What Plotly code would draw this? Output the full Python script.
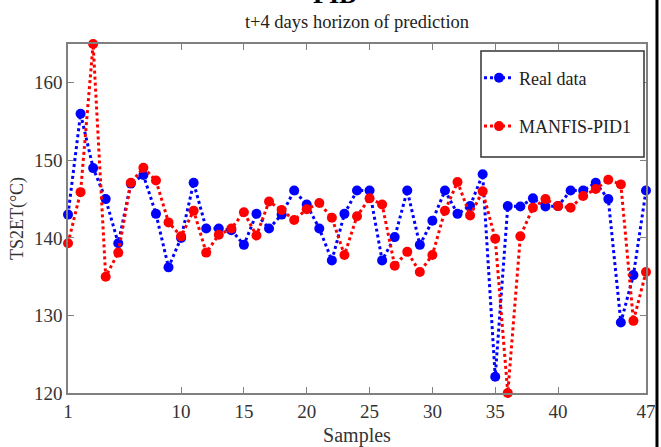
import plotly.graph_objects as go

samples = list(range(1, 48))
real_data = [143, 156, 149, 145, 139.3, 147, 148.1, 143.1, 136.2, 140,
             147.1, 141.2, 141.2, 141, 139.1, 143.1, 141.2, 143, 146.1, 144.3,
             141.2, 137.1, 143.1, 146.1, 146.1, 137.1, 140.1, 146.1, 139.1, 142.2,
             146.1, 143.1, 144.1, 148.2, 122.1, 144.1, 144.05, 145.1, 144.05, 144.1,
             146.1, 146.1, 147.1, 145.0, 129.1, 135.2, 146.1]
manfis_pid1 = [139.3, 145.9, 165, 135, 138.1, 147.1, 149.05, 147.4, 142.0, 140.2,
               143.5, 138.1, 140.4, 141.2, 143.3, 140.3, 144.7, 143.6, 142.3, 143.7,
               144.5, 142.6, 137.8, 142.8, 145.1, 144.3, 136.4, 138.2, 135.6, 137.8,
               143.5, 147.2, 142.9, 146.0, 139.9, 120, 140.2, 143.9, 145.0, 144.1,
               143.9, 145.4, 146.3, 147.5, 146.9, 129.3, 135.6]
x_ticks = [1, 10, 15, 20, 25, 30, 35, 40, 47]
y_ticks = [120, 130, 140, 150, 160]

FONT = "Liberation Serif"

fig = go.Figure()
fig.add_trace(go.Scatter(
    x=samples, y=real_data, name="Real data", mode="lines+markers",
    line=dict(color="#0000ff", width=3, dash="dot"),
    marker=dict(color="#0000ff", size=10),
    cliponaxis=False, legendgroup="a"))
fig.add_trace(go.Scatter(
    x=samples, y=manfis_pid1, name="MANFIS-PID1", mode="lines+markers",
    line=dict(color="#ff0000", width=3, dash="dot"),
    marker=dict(color="#ff0000", size=10),
    cliponaxis=False, legendgroup="b"))

axis_common = dict(showline=True, linecolor="#808080", linewidth=1.5, mirror="ticks",
                   ticks="inside", ticklen=6, tickcolor="#808080", showgrid=False,
                   zeroline=False, automargin=False,
                   tickfont=dict(family=FONT, size=19, color="#333333"))

fig.update_layout(
    width=661, height=447,
    margin=dict(l=68, r=15, t=44, b=54, autoexpand=False),
    paper_bgcolor="white", plot_bgcolor="white",
    font=dict(family=FONT, color="#222222"),
    title=dict(text="t+4 days horizon of prediction", xref="paper", x=0.5, xanchor="center",
               y=0.952, yanchor="middle", font=dict(family=FONT, size=18.5, color="#222222")),
    xaxis=dict(range=[1, 47], tickmode="array", tickvals=x_ticks,
               title=dict(text="Samples", font=dict(family=FONT, size=20, color="#333333"), standoff=8),
               **axis_common),
    yaxis=dict(range=[120, 165], tickmode="array", tickvals=y_ticks,
               title=dict(text="TS2ET(°C)", font=dict(family=FONT, size=18, color="#333333"), standoff=6),
               **axis_common),
    showlegend=True,
    legend=dict(x=(479 - 68) / 578, y=0.9556, xanchor="left", yanchor="top",
                bgcolor="rgba(0,0,0,0)", borderwidth=0,
                font=dict(family=FONT, size=18, color="#222222"),
                tracegroupgap=22, itemwidth=30),
)
# legend frame
fig.add_shape(type="rect", xref="paper", yref="paper",
              x0=(481 - 68) / 578, x1=(644 - 68) / 578,
              y0=(393 - 157) / 349, y1=(393 - 51) / 349,
              line=dict(color="#333333", width=1.5), fillcolor="white", layer="above")
fig.add_annotation(text="<b>PID</b>", xref="paper", yref="paper", x=(335 - 68) / 578, y=1.0,
                   xanchor="center", yanchor="bottom", yshift=33, showarrow=False,
                   font=dict(family=FONT, size=26, color="black"))
fig.add_shape(type="line", xref="paper", yref="paper", x0=1.019, x1=1.019, y0=-0.2, y1=1.2,
              line=dict(color="black", width=3))

fig.write_html("out.html")
